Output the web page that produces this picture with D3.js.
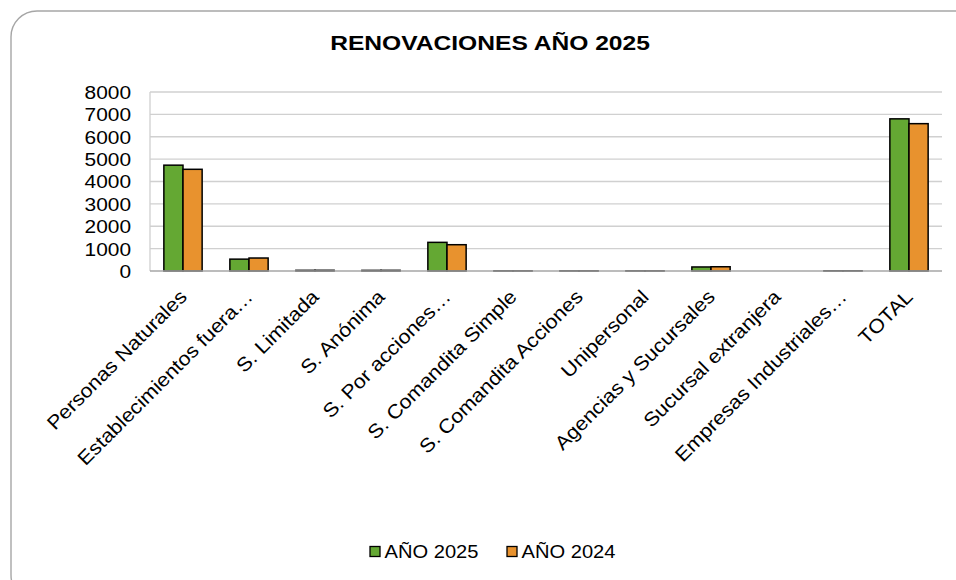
<!DOCTYPE html>
<html>
<head>
<meta charset="utf-8">
<script src="https://cdn.jsdelivr.net/npm/d3@7"></script>
<style>
html,body{margin:0;padding:0;background:#fff;}
svg{display:block;font-family:"Liberation Sans",Arial,sans-serif;}
</style>
</head>
<body>
<svg id="chart" width="956" height="580"></svg>
<script>
const categories = ["Personas Naturales","Establecimientos fuera…","S. Limitada","S. Anónima","S. Por acciones…","S. Comandita Simple","S. Comandita Acciones","Unipersonal","Agencias y Sucursales","Sucursal extranjera","Empresas Industriales…","TOTAL"];
const seriesNames = ["AÑO 2025","AÑO 2024"];
const values2025 = [4730, 530, 30, 28, 1280, 6, 6, 6, 180, 0, 10, 6800];
const values2024 = [4545, 580, 32, 30, 1175, 6, 6, 6, 190, 0, 10, 6585];
const yTicks = [0,1000,2000,3000,4000,5000,6000,7000,8000];
const colors = ["#64a833","#e8922e"];

const svg = d3.select("#chart");
const W = 956, H = 580;
const m = {left:150, right:14, top:92, bottom:309};
const x0 = d3.scaleBand().domain(categories).range([m.left, W - m.right]).paddingInner(0.42).paddingOuter(0.21);
const x1 = d3.scaleBand().domain(seriesNames).range([0, x0.bandwidth()]);
const y = d3.scaleLinear().domain([0,8000]).range([H - m.bottom, m.top]);
const SX = 1.13;

// outer rounded border
svg.append("rect").attr("x",11).attr("y",11).attr("width",970).attr("height",590)
  .attr("rx",26).attr("fill","#fff").attr("stroke","#a6a6a6").attr("stroke-width",1.4);

// title
svg.append("text").attr("transform",`translate(490,49.5) scale(1.2,1)`)
  .attr("text-anchor","middle").attr("font-size",20.5).attr("font-weight","bold")
  .attr("fill","#000").text("RENOVACIONES AÑO 2025");

// gridlines
svg.append("g").selectAll("line").data(yTicks.slice(1)).join("line")
  .attr("x1",m.left).attr("x2",W-m.right).attr("y1",d=>y(d)).attr("y2",d=>y(d))
  .attr("stroke","#d0d0d0").attr("stroke-width",1.3);
// left axis line
svg.append("line").attr("x1",m.left).attr("x2",m.left).attr("y1",y(8000)).attr("y2",y(0))
  .attr("stroke","#d0d0d0").attr("stroke-width",1.3);

// y axis labels
const yAxis = d3.axisLeft(y).tickValues(yTicks).tickSize(0).tickPadding(0).tickFormat(d3.format("d"));
const ga = svg.append("g").attr("transform",`translate(131,0)`).call(yAxis);
ga.select(".domain").remove();
ga.selectAll("text").attr("font-size",18.5).attr("fill","#000")
  .attr("font-family","Liberation Sans, Arial, sans-serif")
  .attr("x",null).attr("dy","0.35em")
  .attr("transform",`scale(${SX},1)`);

// bars
const groups = svg.append("g").selectAll("g").data(categories).join("g")
  .attr("transform",d=>`translate(${x0(d)},0)`);
groups.selectAll("rect").data((d,i)=>[{s:seriesNames[0],v:values2025[i]},{s:seriesNames[1],v:values2024[i]}])
  .join("rect")
  .attr("x",d=>x1(d.s)).attr("width",x1.bandwidth())
  .attr("y",d=>y(d.v)).attr("height",d=>y(0)-y(d.v))
  .attr("fill",(d,i)=>colors[i]).attr("stroke",d=>d.v>0?"#000":"none").attr("stroke-width",1.5);

// x axis baseline
svg.append("line").attr("x1",m.left).attr("x2",W-m.right).attr("y1",y(0)).attr("y2",y(0))
  .attr("stroke","#a6a6a6").attr("stroke-width",1.3);

// x labels
const xAxis = d3.axisBottom(x0).tickSize(0).tickPadding(0);
const gx = svg.append("g").attr("transform",`translate(0,${y(0)})`).call(xAxis);
gx.select(".domain").remove();
gx.selectAll("text").attr("font-size",19.5).attr("fill","#000")
  .attr("font-family","Liberation Sans, Arial, sans-serif")
  .attr("text-anchor","end").attr("y",null).attr("dy",null)
  .attr("transform",`translate(5,27) rotate(-45) scale(1.1,1)`);

// legend
const lg = svg.append("g");
const lx = [370, 507];
seriesNames.forEach((s,i)=>{
  lg.append("rect").attr("x",lx[i]).attr("y",546.5).attr("width",10).attr("height",10)
    .attr("fill",colors[i]).attr("stroke","#000").attr("stroke-width",1.3);
  lg.append("text").attr("transform",`translate(${lx[i]+14.5},557.5) scale(1.06,1)`)
    .attr("font-size",19).attr("fill","#000").text(s);
});
</script>
</body>
</html>
